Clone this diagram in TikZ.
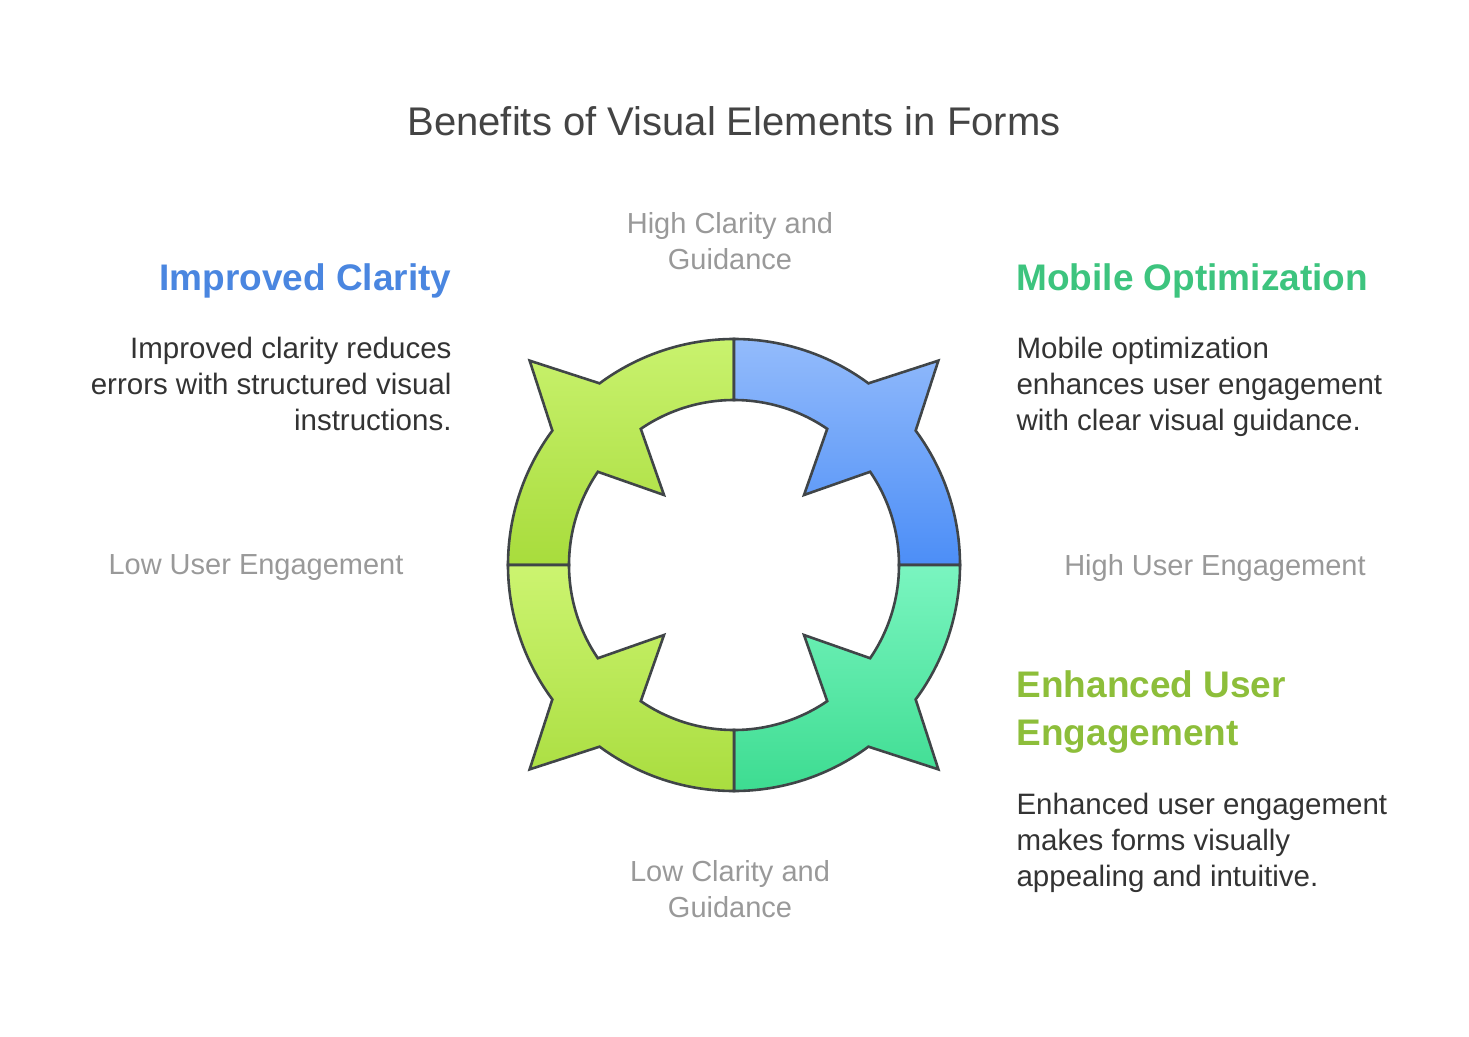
\documentclass[tikz,border=0pt]{standalone}
\usepackage{fontspec}
\setmainfont{Liberation Sans}
\usetikzlibrary{positioning,calc}
\definecolor{titlegray}{HTML}{444444}
\definecolor{bodygray}{HTML}{333333}
\definecolor{axisgray}{HTML}{999999}
\definecolor{clarblue}{HTML}{4A86E0}
\definecolor{mobgreen}{HTML}{3DC47E}
\definecolor{enhgreen}{HTML}{8DBE3A}
\definecolor{ringline}{HTML}{404548}
\begin{document}
\begin{tikzpicture}[x=1pt,y=1pt,
       quad/.style={draw=ringline, line width=2.6pt, line join=miter},
       axis/.style={text=axisgray, font=\fontsize{29}{36}\selectfont, align=center},
       head/.style={font=\fontsize{37}{48}\selectfont\bfseries},
       body/.style={text=bodygray, font=\fontsize{29.5}{36}\selectfont}]
      \useasboundingbox (0,0) rectangle (1469,-1036);
      \coordinate (c) at (734,-565);
      % ring quadrants: start angle / top colour / bottom colour
      \foreach \a/\tc/\bc in {90/C9F26E/A8DC3C, 0/93BBFB/4C8EF7, 270/7AF5C0/3DDC91, 180/CCF470/A9DD3F}{
        \definecolor{tc}{HTML}{\tc}\definecolor{bc}{HTML}{\bc}
        \path[quad, top color=tc, bottom color=bc]
          ($(c)+(\a:226)$) arc[start angle=\a, end angle=\a+36.5, radius=226]
          -- ($(c)+(\a+45:289)$) -- ($(c)+(\a+53.5:226)$)
          arc[start angle=\a+53.5, end angle=\a+90, radius=226]
          -- ($(c)+(\a+90:165)$)
          arc[start angle=\a+90, end angle=\a+55.6, radius=165]
          -- ($(c)+(\a+45:99)$) -- ($(c)+(\a+34.4:165)$)
          arc[start angle=\a+34.4, end angle=\a, radius=165] -- cycle;
      }
      \node[text=titlegray, font=\fontsize{40}{48}\selectfont] (title) at (734,-121) {Benefits of Visual Elements in Forms};
      % axis labels
      \node[axis] (hiclar) at (730,-241) {High Clarity and\\Guidance};
      \node[axis] (loclar) at (730,-889) {Low Clarity and\\Guidance};
      \node[axis] (loeng) at (256,-568) {Low User Engagement};
      \node[axis] (hieng) at (1215,-568) {High User Engagement};
      % benefit blocks
      \node[head, text=clarblue, anchor=east] (clar) at (455,-281) {Improved Clarity};
      \node[body, align=right, anchor=north east] (clartxt) at (455,-334) {Improved clarity reduces\\errors with structured visual\\instructions.};
      \node[head, text=mobgreen, anchor=west] (mob) at (1013,-281) {Mobile Optimization};
      \node[body, align=left, anchor=north west] (mobtxt) at (1013,-334) {Mobile optimization\\enhances user engagement\\with clear visual guidance.};
      \node[head, text=enhgreen, align=left, anchor=north west] (enh) at (1013,-667) {Enhanced User\\Engagement};
      \node[body, align=left, anchor=north west] (enhtxt) at (1013,-790) {Enhanced user engagement\\makes forms visually\\appealing and intuitive.};
\end{tikzpicture}
\end{document}
